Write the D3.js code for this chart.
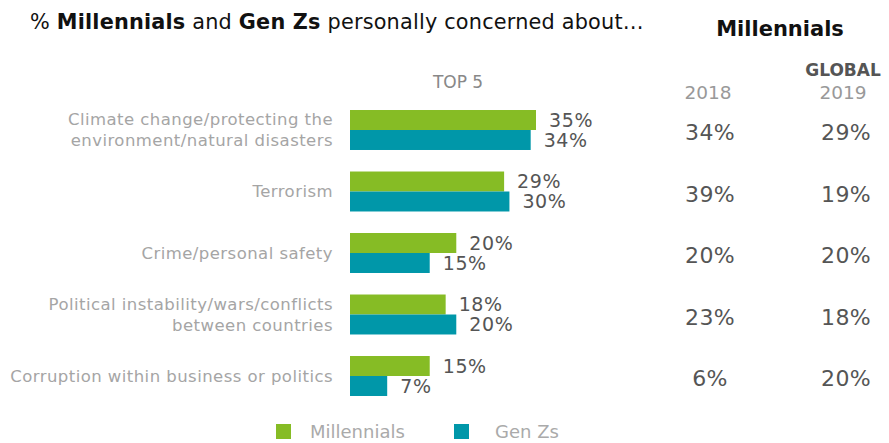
<!DOCTYPE html>
<html>
<head>
<meta charset="utf-8">
<script src="https://cdn.jsdelivr.net/npm/d3@7"></script>
<style>
  html, body { margin: 0; padding: 0; background: #fff; }
  svg text { font-family: "DejaVu Sans", Verdana, sans-serif; }
</style>
</head>
<body>
<svg id="chart" width="889" height="443"></svg>
<script>
// Concerns, in display order
const categories = [
  ["Climate change/protecting the", "environment/natural disasters"],
  ["Terrorism"],
  ["Crime/personal safety"],
  ["Political instability/wars/conflicts", "between countries"],
  ["Corruption within business or politics"]
];
const millennials = [35, 29, 20, 18, 15];
const genZs = [34, 30, 15, 20, 7];
const global2018 = [34, 39, 20, 23, 6];
const global2019 = [29, 19, 20, 18, 20];
const seriesNames = ["Millennials", "Gen Zs"];
const colors = ["#86bc25", "#0097a9"];

const svg = d3.select("#chart");

// Scales
const x = d3.scaleLinear().domain([0, 35]).range([350, 536]);
const y = d3.scaleBand().domain(d3.range(categories.length))
  .range([99.25, 406.75]).paddingInner(0.35).paddingOuter(0.175);
const barH = y.bandwidth() / 2;

// Title
const title = svg.append("text").attr("x", 30).attr("y", 29)
  .attr("font-size", 20.8).attr("fill", "#111").attr("letter-spacing", 0.2);
title.append("tspan").text("% ");
title.append("tspan").attr("font-weight", "bold").text("Millennials");
title.append("tspan").text(" and ");
title.append("tspan").attr("font-weight", "bold").text("Gen Zs");
title.append("tspan").text(" personally concerned about…");

svg.append("text").attr("x", 780).attr("y", 36).attr("text-anchor", "middle")
  .attr("font-size", 21).attr("font-weight", "bold").attr("fill", "#111").text("Millennials");

svg.append("text").attr("x", 458).attr("y", 88).attr("text-anchor", "middle")
  .attr("font-size", 17).attr("fill", "#888").text("TOP 5");

svg.append("text").attr("x", 843).attr("y", 76).attr("text-anchor", "middle")
  .attr("font-size", 17).attr("font-weight", "bold").attr("fill", "#555").text("GLOBAL");
svg.append("text").attr("x", 708).attr("y", 99).attr("text-anchor", "middle")
  .attr("font-size", 18.5).attr("fill", "#999").text("2018");
svg.append("text").attr("x", 843).attr("y", 99).attr("text-anchor", "middle")
  .attr("font-size", 18.5).attr("fill", "#999").text("2019");

// Rows
const rows = svg.selectAll("g.row").data(categories).join("g").attr("class", "row");

rows.each(function(lines, i) {
  const g = d3.select(this);
  const top = y(i);
  const mid = top + barH;
  const lh = 21;
  lines.forEach((ln, k) => {
    g.append("text")
      .attr("x", 333)
      .attr("y", mid + (k - (lines.length - 1) / 2) * lh)
      .attr("dy", "0.35em")
      .attr("text-anchor", "end")
      .attr("font-size", 16.5)
      .attr("letter-spacing", 0.45)
      .attr("fill", "#a5a5a5")
      .text(ln);
  });
  [millennials[i], genZs[i]].forEach((v, s) => {
    g.append("rect")
      .attr("x", x(0)).attr("y", top + s * barH)
      .attr("width", x(v) - x(0)).attr("height", barH)
      .attr("fill", colors[s]);
    g.append("text")
      .attr("x", x(v) + 13).attr("y", top + s * barH + barH / 2)
      .attr("dy", "0.35em")
      .attr("font-size", 19).attr("letter-spacing", 0.6).attr("fill", "#555")
      .text(v + "%");
  });
  g.append("text").attr("x", 710).attr("y", mid + 2.5).attr("dy", "0.35em")
    .attr("text-anchor", "middle").attr("font-size", 22).attr("letter-spacing", 0.3).attr("fill", "#555")
    .text(global2018[i] + "%");
  g.append("text").attr("x", 846).attr("y", mid + 2.5).attr("dy", "0.35em")
    .attr("text-anchor", "middle").attr("font-size", 22).attr("letter-spacing", 0.3).attr("fill", "#555")
    .text(global2019[i] + "%");
});

// Legend
const legendX = [276, 454];
const legendTextX = [310, 495];
seriesNames.forEach((name, s) => {
  svg.append("rect").attr("x", legendX[s]).attr("y", 424).attr("width", 15).attr("height", 15)
    .attr("fill", colors[s]);
  svg.append("text").attr("x", legendTextX[s]).attr("y", 432).attr("dy", "0.35em")
    .attr("font-size", 18).attr("fill", "#aaa").text(name);
});
</script>
</body>
</html>
